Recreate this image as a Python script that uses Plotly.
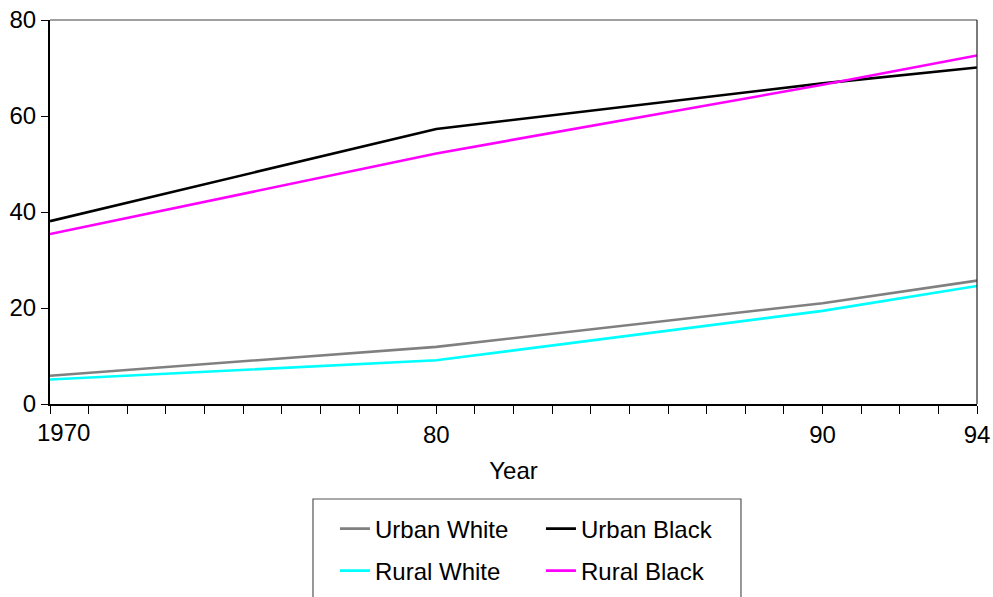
import plotly.graph_objects as go

years = [1970, 1980, 1990, 1994]
urban_white = [5.9, 11.9, 21.0, 25.7]
urban_black = [38.1, 57.3, 66.8, 70.1]
rural_white = [5.1, 9.1, 19.4, 24.6]
rural_black = [35.4, 52.2, 66.5, 72.6]

x_tickvals = list(range(1970, 1995))
x_ticktext = {1980: "80", 1990: "90", 1994: "94"}
y_tickvals = [0, 20, 40, 60, 80]

FONT = "Liberation Sans, Arial, sans-serif"
FS = 24

fig = go.Figure()
series = [
    ("Urban White", urban_white, "#808080", "legend"),
    ("Urban Black", urban_black, "#000000", "legend"),
    ("Rural White", rural_white, "#00FFFF", "legend2"),
    ("Rural Black", rural_black, "#FF00FF", "legend2"),
]
for name, vals, col, lg in series:
    fig.add_trace(go.Scatter(x=years, y=vals, mode="lines", name=name,
                             line=dict(color=col, width=2.6), legend=lg))

fig.update_layout(
    width=993, height=597,
    margin=dict(l=50, r=16, t=20, b=193, autoexpand=False),
    paper_bgcolor="white", plot_bgcolor="white",
    font=dict(family=FONT, size=FS, color="black"),
    showlegend=True,
    legend=dict(orientation="h", x=0.3074, y=-0.3255, xanchor="left", yanchor="middle",
                entrywidth=161, bgcolor="rgba(0,0,0,0)", borderwidth=0,
                font=dict(family=FONT, size=FS, color="black")),
    legend2=dict(orientation="h", x=0.3074, y=-0.4349, xanchor="left", yanchor="middle",
                 entrywidth=161, bgcolor="rgba(0,0,0,0)", borderwidth=0,
                 font=dict(family=FONT, size=FS, color="black")),
)

fig.update_xaxes(
    range=[1970, 1994], tickmode="array", tickvals=x_tickvals,
    ticktext=[x_ticktext.get(v, "") for v in x_tickvals],
    ticks="outside", ticklen=8, tickwidth=1, tickcolor="black",
    showline=True, linecolor="black", linewidth=2, showgrid=False, zeroline=False,
    title=dict(text="Year", font=dict(size=FS)),
    tickfont=dict(size=FS), ticklabeloverflow="allow",
)
fig.update_yaxes(
    range=[0, 80], tickmode="array", tickvals=y_tickvals,
    ticks="outside", ticklen=7, tickwidth=1, tickcolor="black",
    showline=True, linecolor="black", linewidth=2, showgrid=False, zeroline=False,
    tickfont=dict(size=FS), ticklabeloverflow="allow",
)

# first tick label, offset as in the original
fig.add_annotation(x=1970, y=0, xref="x", yref="y", text="1970", showarrow=False,
                   xanchor="left", yanchor="top", xshift=-15, yshift=-13,
                   font=dict(size=FS, family=FONT, color="black"))

# frame: top (gray) and right (black) lines
fig.add_shape(type="line", xref="paper", yref="paper", x0=0, x1=1, y0=1, y1=1,
              line=dict(color="#808080", width=1.5))
fig.add_shape(type="line", xref="paper", yref="paper", x0=1, x1=1, y0=0, y1=1,
              line=dict(color="#222222", width=1.2))
# legend box
fig.add_shape(type="rect", xref="paper", yref="paper", x0=0.2837, x1=0.7454,
              y0=-0.2474, y1=-0.56, line=dict(color="#555555", width=1.2),
              fillcolor="rgba(0,0,0,0)")

fig.write_html("out.html", config={"displayModeBar": False},
               post_script="document.body.style.margin='0';document.body.style.overflow='hidden';")
